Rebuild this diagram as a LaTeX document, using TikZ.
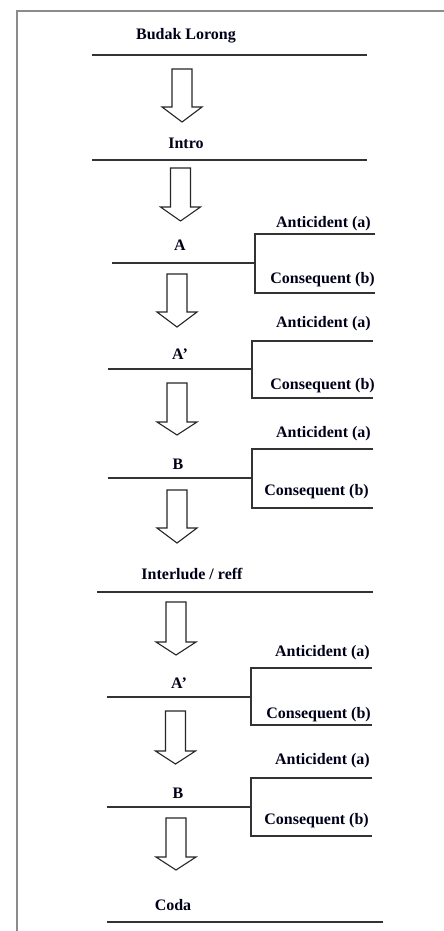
\documentclass[tikz,border=0pt]{standalone}
\usepackage{fontspec}
\setmainfont{Liberation Serif}
\begin{document}
\begin{tikzpicture}[x=1pt,y=-1pt,
  lbl/.style={font=\bfseries\fontsize{16}{18}\selectfont, text=black!90!blue, inner sep=0pt, anchor=base},
  rlbl/.style={lbl, anchor=base east},
  hline/.style={line width=1.4pt, draw=black!80},
  frame/.style={line width=1.6pt, draw=black!45},
  blk/.style={line width=1.1pt, draw=black!85, fill=white, line join=miter}]
\useasboundingbox (0,0) rectangle (444,931);
\draw[frame] (17,931) -- (17,11) -- (444,11);
% block arrow: cx, top, base, tip
\newcommand\myarrow[4]{\draw[blk] ({#1-10},#2) -- ({#1+10},#2) -- ({#1+10},#3) -- ({#1+20},#3) -- (#1,#4) -- ({#1-20},#3) -- ({#1-10},#3) -- cycle;}
% bracket: line left x, line y, vertical x, top y, bottom y, right x
\newcommand\mybracket[6]{\draw[hline] (#1,#2) -- (#3,#2); \draw[hline] (#6,#4) -- (#3,#4) -- (#3,#5) -- (#6,#5);}
% titles
\node[lbl] (t1) at (186,40) {Budak Lorong};
\draw[hline] (92,55) -- (367,55);
\myarrow{182}{69}{107}{122}
\node[lbl] (t2) at (186,149) {Intro};
\draw[hline] (92,160) -- (367,160);
\myarrow{180.5}{168}{207}{221}
% A
\node[lbl] (t3) at (180,250) {A};
\node[rlbl] (a1) at (371,227) {Anticident (a)};
\node[rlbl] (c1) at (375,283) {Consequent (b)};
\mybracket{112}{263}{255}{234}{293}{375}
\myarrow{177}{274}{312}{327}
% A'
\node[lbl] (t4) at (180,359) {A'};
\node[rlbl] (a2) at (371,327) {Anticident (a)};
\node[rlbl] (c2) at (375,389) {Consequent (b)};
\mybracket{108}{369}{252}{341}{398}{373}
\myarrow{177}{383}{422}{435}
% B
\node[lbl] (t5) at (178,469) {B};
\node[rlbl] (a3) at (371,437) {Anticident (a)};
\node[rlbl] (c3) at (369,495) {Consequent (b)};
\mybracket{108}{478}{252}{449}{508}{373}
\myarrow{177}{490}{528}{543}
% Interlude
\node[lbl] (t6) at (192,579) {Interlude / reff};
\draw[hline] (97,592) -- (373,592);
\myarrow{176}{602}{642}{655}
% A' second
\node[lbl] (t7) at (179,688) {A'};
\node[rlbl] (a4) at (370,656) {Anticident (a)};
\node[rlbl] (c4) at (371,718) {Consequent (b)};
\mybracket{107}{697}{251}{668}{725}{372}
\myarrow{175.5}{711}{751}{764}
% B second
\node[lbl] (t8) at (178,798) {B};
\node[rlbl] (a5) at (370,764) {Anticident (a)};
\node[rlbl] (c5) at (369,824) {Consequent (b)};
\mybracket{107}{807}{251}{778}{836}{372}
\myarrow{176}{818}{857}{870}
% Coda
\node[lbl] (t9) at (173,910) {Coda};
\draw[hline] (107,922) -- (383,922);
\end{tikzpicture}
\end{document}
